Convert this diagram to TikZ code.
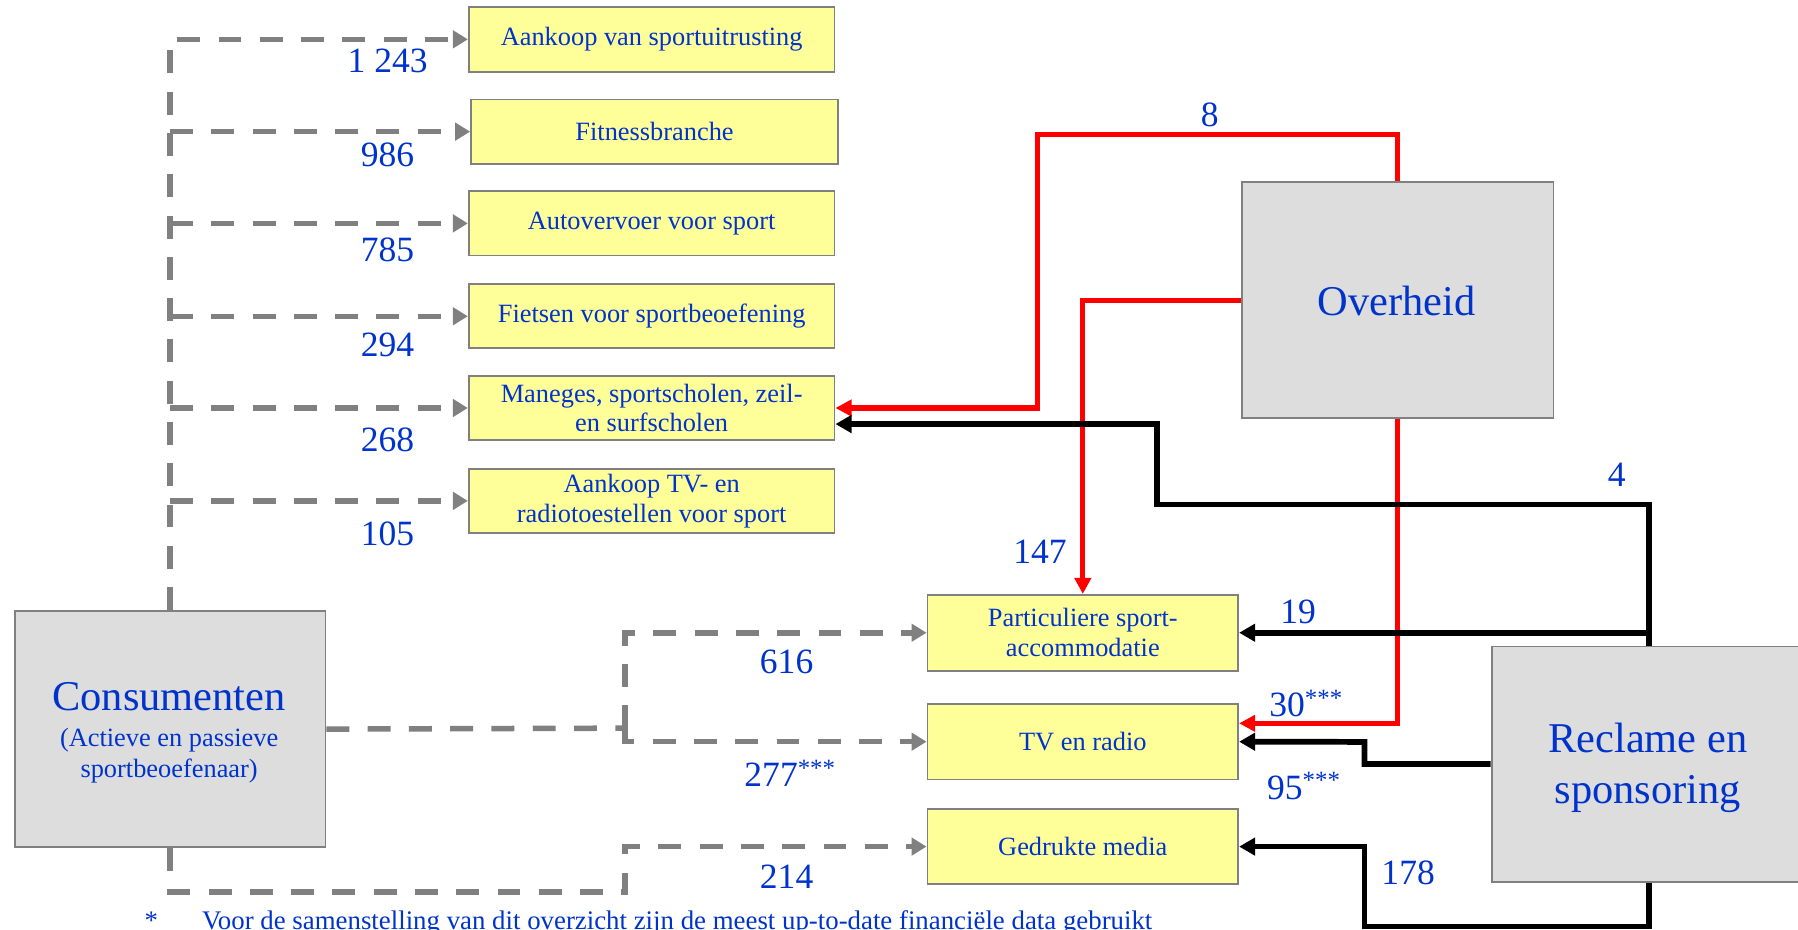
\documentclass[tikz,border=0pt]{standalone}
\usepackage{fontspec}
\setmainfont{Liberation Serif}
\usetikzlibrary{arrows.meta}
\definecolor{txtblue}{RGB}{0,51,204}
\definecolor{boxyellow}{RGB}{255,255,153}
\definecolor{boxgray}{RGB}{221,221,221}
\definecolor{edgegray}{RGB}{128,128,128}
\begin{document}
\begin{tikzpicture}[x=1pt,y=-1pt,
  ybox/.style={draw=edgegray,line width=1.6pt,fill=boxyellow,text=txtblue,
    font=\fontsize{23}{26}\selectfont,align=center,inner sep=0pt,anchor=north west},
  gbox/.style={draw=edgegray,line width=1.6pt,fill=boxgray,inner sep=0pt,anchor=north west},
  bigtxt/.style={text=txtblue,font=\fontsize{37}{44}\selectfont,inner sep=0pt,anchor=base},
  subtxt/.style={text=txtblue,font=\fontsize{23}{27}\selectfont,inner sep=0pt,anchor=base},
  fntxt/.style={text=txtblue,font=\fontsize{23.4}{27}\selectfont,inner sep=0pt,anchor=base west},
  num/.style={text=txtblue,font=\fontsize{31}{34}\selectfont,inner sep=0pt,anchor=base},
  gd/.style={draw=edgegray,line width=4.8pt,dash pattern=on 20pt off 16pt},
  garr/.style={-{Triangle[length=13pt,width=15pt]}},
  rl/.style={draw=red,line width=4.5pt,-{Triangle[length=14pt,width=14pt]}},
  bl/.style={draw=black,line width=5pt,-{Triangle[length=14pt,width=15pt]}}]
\clip (0,0) rectangle (1568,811);
\fill[white] (0,0) rectangle (1568,811);
% yellow boxes
\node[ybox,minimum width=319pt,minimum height=57pt] (b1) at (408,5) {Aankoop van sportuitrusting};
\node[ybox,minimum width=320pt,minimum height=56pt] (b2) at (410,86) {Fitnessbranche};
\node[ybox,minimum width=319pt,minimum height=56pt] (b3) at (408,166) {Autovervoer voor sport};
\node[ybox,minimum width=319pt,minimum height=56pt] (b4) at (408,247) {Fietsen voor sportbeoefening};
\node[ybox,minimum width=319pt,minimum height=56pt] (b5) at (408,327) {Maneges, sportscholen, zeil-\\en surfscholen};
\node[ybox,minimum width=319pt,minimum height=56pt] (b6) at (408,408) {Aankoop TV- en\\radiotoestellen voor sport};
\node[ybox,minimum width=271pt,minimum height=66pt] (b7) at (808,518) {Particuliere sport-\\accommodatie};
\node[ybox,minimum width=271pt,minimum height=66pt] (b8) at (808,613) {TV en radio};
\node[ybox,minimum width=271pt,minimum height=65pt] (b9) at (808,705) {Gedrukte media};
% gray boxes
\node[gbox,minimum width=271pt,minimum height=206pt] (cons) at (12,532) {};
\node[gbox,minimum width=272pt,minimum height=206pt] (ov) at (1082,158) {};
\node[gbox,minimum width=274pt,minimum height=205pt] (rec) at (1300,563) {};
\node[bigtxt] (consT) at (147.5,620) {Consumenten};
\node[subtxt] (consS1) at (147.5,651) {(Actieve en passieve};
\node[subtxt] (consS2) at (147.5,678) {sportbeoefenaar)};
\node[bigtxt] (ovT) at (1218,275) {Overheid};
\node[bigtxt] (recT1) at (1437,656) {Reclame en};
\node[bigtxt] (recT2) at (1437,701) {sponsoring};
% dashed gray connectors from Consumenten
\draw[gd,garr] (cons.north) |- (b1.west);
\draw[gd,garr] (cons.north |- b2.west) -- (b2.west);
\draw[gd,garr] (cons.north |- b3.west) -- (b3.west);
\draw[gd,garr] (cons.north |- b4.west) -- (b4.west);
\draw[gd,garr] (cons.north |- b5.west) -- (b5.west);
\draw[gd,garr] (cons.north |- b6.west) -- (b6.west);
\coordinate (j1) at (545,635);
\draw[gd] (cons.east) -- (j1);
\draw[gd,garr] (j1) |- (b7.west);
\draw[gd,garr] (j1) |- (b8.west);
\coordinate (j2) at (545,778);
\draw[gd,garr] (cons.south) |- (j2) |- (b9.west);
% red connectors from Overheid
\coordinate (r8) at (905,117);
\draw[rl] (ov.north) |- (r8) |- (b5.east);
\draw[rl] (ov.west) -| (b7.north);
\draw[rl] (ov.south) |- ([yshift=16pt]b8.east);
% black connectors from Reclame en sponsoring
\coordinate (k4) at (1009,440);
\draw[bl] (rec.north) |- (k4) |- ([yshift=-14pt]b5.east);
\draw[bl] (rec.north) |- (b7.east);
\coordinate (k95) at (1190,647);
\draw[bl] (rec.west) -| (k95) -- (b8.east);
\coordinate (k178) at (1190,808);
\draw[bl] (rec.south) |- (k178) |- (b9.east);
% numbers
\node[num] (n1) at (338,63) {1 243};
\node[num] (n2) at (338,145) {986};
\node[num] (n3) at (338,228) {785};
\node[num] (n4) at (338,311) {294};
\node[num] (n5) at (338,394) {268};
\node[num] (n6) at (338,476) {105};
\node[num] (n7) at (686,587) {616};
\node[num] (n8) at (689,686) {277\textsuperscript{***}};
\node[num] (n9) at (686,775) {214};
\node[num] (n10) at (1055,110) {8};
\node[num] (n11) at (907,491) {147};
\node[num] (n12) at (1132,544) {19};
\node[num] (n13) at (1139,625) {30\textsuperscript{***}};
\node[num] (n14) at (1137,697) {95\textsuperscript{***}};
\node[num] (n15) at (1228,771) {178};
\node[num] (n16) at (1410,424) {4};
% footnote
\node[fntxt] (fnstar) at (126,811) {*};
\node[fntxt] (fn) at (176,811) {Voor de samenstelling van dit overzicht zijn de meest up-to-date financiële data gebruikt};
\end{tikzpicture}
\end{document}
